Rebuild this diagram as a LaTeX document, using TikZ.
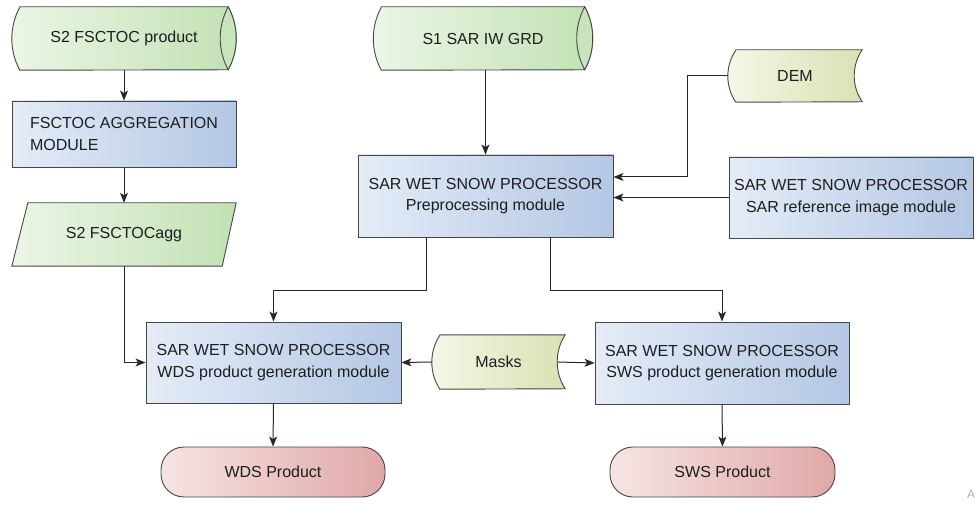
\documentclass[tikz,border=0pt]{standalone}
\usepackage{fontspec}
\setmainfont{Liberation Sans}
\usetikzlibrary{calc,arrows.meta}
\pgfdeclarelayer{background}
\pgfsetlayers{background,main}
\definecolor{greenL}{RGB}{236,246,230}
\definecolor{greenR}{RGB}{194,225,180}
\definecolor{greenCap}{RGB}{200,228,186}
\definecolor{blueL}{RGB}{228,236,247}
\definecolor{blueR}{RGB}{180,199,228}
\definecolor{yelL}{RGB}{246,247,230}
\definecolor{yelR}{RGB}{219,224,180}
\definecolor{pinkL}{RGB}{247,228,228}
\definecolor{pinkR}{RGB}{224,168,168}
\definecolor{edge}{RGB}{70,70,70}
\definecolor{wire}{RGB}{40,40,40}
\definecolor{txt}{RGB}{30,30,30}
\tikzset{
  lbl/.style={font=\fontsize{16}{21.5}\selectfont, text=txt, align=center, inner sep=0pt},
  procbox/.style={lbl, draw=edge, line width=0.9pt, left color=blueL, right color=blueR},
  termbox/.style={lbl, draw=edge, line width=0.9pt, left color=pinkL, right color=pinkR, rounded corners=23pt},
  greenfill/.style={draw=edge, line width=0.9pt, left color=greenL, right color=greenR},
  yelfill/.style={draw=edge, line width=0.9pt, left color=yelL, right color=yelR},
  wirearrow/.style={draw=wire, line width=1pt, -{Stealth[length=10pt,width=8pt,inset=2.5pt]}},
}
\begin{document}
\begin{tikzpicture}[x=1pt,y=1pt]
\useasboundingbox (0,0) rectangle (975,-505);

% ---- text nodes for custom shapes
\node[lbl, minimum width=224pt, minimum height=63pt] (s2p) at (124,-38.5) {S2 FSCTOC product};
\node[lbl, minimum width=219pt, minimum height=63pt] (s1) at (483,-38.5) {S1 SAR IW GRD};
\node[lbl, minimum width=224pt, minimum height=63pt] (s2agg) at (124,-234.5) {S2 FSCTOCagg};
\node[lbl, minimum width=134pt, minimum height=52pt] (dem) at (795,-76) {DEM};
\node[lbl, minimum width=133pt, minimum height=54pt] (masks) at (498.5,-362) {Masks};

% ---- process boxes
\node[procbox, minimum width=224pt, minimum height=66pt, align=left] (agg) at (124,-134) {FSCTOC AGGREGATION\\MODULE};
\node[procbox, minimum width=255pt, minimum height=82pt] (pre) at (485.5,-196) {SAR WET SNOW PROCESSOR\\Preprocessing module};
\node[procbox, minimum width=244pt, minimum height=81pt] (ref) at (851,-197.5) {SAR WET SNOW PROCESSOR\\SAR reference image module};
\node[procbox, minimum width=255pt, minimum height=81pt] (wds) at (273.5,-362.5) {SAR WET SNOW PROCESSOR\\WDS product generation module};
\node[procbox, minimum width=254pt, minimum height=82pt] (sws) at (722,-363) {SAR WET SNOW PROCESSOR\\SWS product generation module};

% ---- terminals
\node[termbox, minimum width=224pt, minimum height=50pt] (wdsp) at (273,-472) {WDS Product};
\node[termbox, minimum width=225pt, minimum height=50pt] (swsp) at (722.5,-472) {SWS Product};

% ---- faint fragment at the edge
\node[font=\fontsize{12}{12}\selectfont, text=black!30, anchor=west, inner sep=0pt] (frag) at (967,-494) {A};

% ---- shapes behind the texts (ends are shallow circular arcs)
\begin{pgfonlayer}{background}
  \foreach \n in {s2p,s1}{
    \path[greenfill] ($(\n.north west)+(8,0)$) -- ($(\n.north east)+(-8,0)$)
      arc[start angle=28.5,end angle=-28.5,radius=66pt]
      -- ($(\n.south west)+(8,0)$)
      arc[start angle=208.5,end angle=151.5,radius=66pt] -- cycle;
    \path[draw=edge, line width=0.9pt, fill=greenCap] ($(\n.north east)+(-8,0)$)
      arc[start angle=28.5,end angle=-28.5,radius=66pt]
      arc[start angle=208.5,end angle=151.5,radius=66pt] -- cycle;
  }
  % parallelogram
  \path[greenfill] ($(s2agg.north west)+(16,0)$) -- (s2agg.north east)
    -- ($(s2agg.south east)+(-14,0)$) -- (s2agg.south west) -- cycle;
  % stored data
  \path[yelfill] ($(dem.north west)+(8,0)$) -- (dem.north east)
    arc[start angle=145.8,end angle=214.2,radius=46.25pt]
    -- ($(dem.south west)+(8,0)$)
    arc[start angle=214.2,end angle=145.8,radius=46.25pt] -- cycle;
  \path[yelfill] ($(masks.north west)+(8,0)$) -- (masks.north east)
    arc[start angle=147,end angle=213,radius=49.56pt]
    -- ($(masks.south west)+(8,0)$)
    arc[start angle=213,end angle=147,radius=49.56pt] -- cycle;
\end{pgfonlayer}

% ---- connectors
\draw[wirearrow] (s2p.south) -- (agg.north);
\draw[wirearrow] (agg.south) -- (s2agg.north);
\draw[wirearrow] (s2agg.south) |- (wds.west);
\draw[wirearrow] (s1.south -| pre.north) -- (pre.north);
\draw[wirearrow] (dem.west) -- ++(-40,0) |- ([yshift=19pt]pre.east);
\draw[wirearrow] (ref.west) -- (pre.east |- ref.west);
\draw[wirearrow] ([xshift=-59.5pt]pre.south) -- ++(0,-53) -| (wds.north);
\draw[wirearrow] ([xshift=64.5pt]pre.south) -- ++(0,-53) -| (sws.north);
\draw[wirearrow] (masks.west) -- (wds.east);
\draw[wirearrow] ([xshift=-8pt]masks.east) -- (sws.west);
\draw[wirearrow] (wds.south) -- (wdsp.north);
\draw[wirearrow] (sws.south) -- (swsp.north);
\end{tikzpicture}
\end{document}
